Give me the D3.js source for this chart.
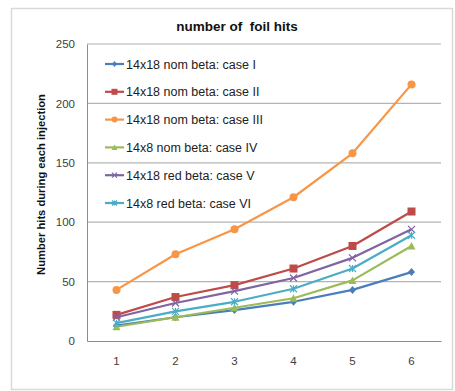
<!DOCTYPE html>
<html>
<head>
<meta charset="utf-8">
<script src="https://cdn.jsdelivr.net/npm/d3@7/dist/d3.min.js"></script>
<style>
  html, body { margin: 0; padding: 0; background: #fff; }
  svg { display: block; }
</style>
</head>
<body>
<svg id="chart" width="455" height="391"></svg>
<script>
// Injection index on the x axis
const categories = ["1", "2", "3", "4", "5", "6"];
const yTicks = [0, 50, 100, 150, 200, 250];

// Foil hits per injection for each configuration
const caseI   = [13, 20, 26, 33, 43, 58];
const caseII  = [22, 37, 47, 61, 80, 109];
const caseIII = [43, 73, 94, 121, 158, 216];
const caseIV  = [12, 20, 28, 36, 51, 80];
const caseV   = [20, 32, 42, 53, 70, 94];
const caseVI  = [15, 25, 33, 44, 61, 89];

const seriesNames = [
  "14x18 nom beta: case I",
  "14x18 nom beta: case II",
  "14x18 nom beta: case III",
  "14x8 nom beta: case IV",
  "14x18 red beta: case V",
  "14x8 red beta: case VI"
];
const seriesValues = [caseI, caseII, caseIII, caseIV, caseV, caseVI];
const seriesColors = ["#4a7ebb", "#be4b48", "#f79646", "#9bbb59", "#8064a2", "#4bacc6"];
const seriesMarkers = ["diamond", "square", "circle", "triangle", "x", "star"];

const svg = d3.select("#chart");
const font = "'Liberation Sans', Arial, sans-serif";

// Chart frame
svg.append("rect")
  .attr("x", 11.5).attr("y", 8.5).attr("width", 441).attr("height", 381)
  .attr("fill", "#fff").attr("stroke", "#d9d9d9").attr("stroke-width", 1.5);

const plot = { left: 87, right: 441, top: 44, bottom: 341 };

const x = d3.scaleBand().domain(categories).range([plot.left, plot.right]);
const y = d3.scaleLinear().domain([0, 250]).range([plot.bottom, plot.top]);

// Horizontal gridlines
svg.append("g").selectAll("line").data(yTicks.filter(t => t > 0)).join("line")
  .attr("x1", plot.left).attr("x2", plot.right)
  .attr("y1", d => y(d)).attr("y2", d => y(d))
  .attr("stroke", "#b3b3b3").attr("stroke-width", 1.2);

// Y axis
const yAxis = svg.append("g")
  .attr("transform", `translate(${plot.left},0)`)
  .call(d3.axisLeft(y).tickValues(yTicks).tickSize(0).tickPadding(12));
yAxis.select(".domain").attr("stroke", "#8c8c8c");
yAxis.selectAll("text").attr("font-family", font).attr("font-size", 11.5).attr("fill", "#404040");

// X axis
const xAxis = svg.append("g")
  .attr("transform", `translate(0,${plot.bottom})`)
  .call(d3.axisBottom(x).tickSize(0).tickPadding(16));
xAxis.select(".domain").attr("stroke", "#8c8c8c");
xAxis.selectAll("text").attr("font-family", font).attr("font-size", 11.5).attr("fill", "#404040");

// Title
svg.append("text")
  .attr("x", 237).attr("y", 31)
  .attr("text-anchor", "middle")
  .attr("font-family", font).attr("font-size", 13.5).attr("font-weight", "bold")
  .attr("fill", "#111")
  .style("white-space", "pre")
  .text("number of  foil hits");

// Y axis title
svg.append("text")
  .attr("transform", `translate(45,${(89 + 280) / 2}) rotate(-90)`)
  .attr("text-anchor", "middle")
  .attr("font-family", font).attr("font-size", 11.2).attr("font-weight", "bold")
  .attr("fill", "#111")
  .text("Number hits during each injection");

// Marker shapes
function drawMarker(g, type, color, size) {
  const h = size / 2;
  if (type === "diamond") {
    g.append("path").attr("d", `M0,${-h - 0.5}L${h},0L0,${h + 0.5}L${-h},0Z`).attr("fill", color);
  } else if (type === "square") {
    g.append("rect").attr("x", -h - 0.5).attr("y", -h - 0.5)
      .attr("width", size + 1).attr("height", size + 1).attr("fill", color);
  } else if (type === "circle") {
    g.append("circle").attr("r", h + 0.5).attr("fill", color);
  } else if (type === "triangle") {
    g.append("path").attr("d", `M0,${-h - 0.5}L${h + 0.5},${h}L${-h - 0.5},${h}Z`).attr("fill", color);
  } else if (type === "x" || type === "star") {
    let d = `M${-h},${-h}L${h},${h}M${-h},${h}L${h},${-h}`;
    if (type === "star") d += `M0,${-h}L0,${h}`;
    g.append("path").attr("d", d).attr("stroke", color).attr("stroke-width", 1.2).attr("fill", "none");
  }
}

const line = d3.line()
  .x((d, i) => x(categories[i]) + x.bandwidth() / 2)
  .y(d => y(d));

seriesValues.forEach((vals, s) => {
  const g = svg.append("g");
  g.append("path").datum(vals)
    .attr("d", line)
    .attr("fill", "none")
    .attr("stroke", seriesColors[s])
    .attr("stroke-width", 2.2)
    .attr("stroke-linejoin", "round");
  vals.forEach((v, i) => {
    const m = g.append("g")
      .attr("transform", `translate(${x(categories[i]) + x.bandwidth() / 2},${y(v)})`);
    drawMarker(m, seriesMarkers[s], seriesColors[s], 7);
  });
});

// Legend
const legend = svg.append("g");
seriesNames.forEach((name, s) => {
  const ly = 64 + s * 27.8;
  const item = legend.append("g").attr("transform", `translate(0,${ly})`);
  item.append("line").attr("x1", 105).attr("x2", 124).attr("y1", 0).attr("y2", 0)
    .attr("stroke", seriesColors[s]).attr("stroke-width", 2.2);
  const m = item.append("g").attr("transform", "translate(114.5,0)");
  drawMarker(m, seriesMarkers[s], seriesColors[s], 5);
  item.append("text").attr("x", 126).attr("y", 4.5)
    .attr("font-family", font).attr("font-size", 12.5).attr("fill", "#222")
    .text(name);
});
</script>
</body>
</html>
